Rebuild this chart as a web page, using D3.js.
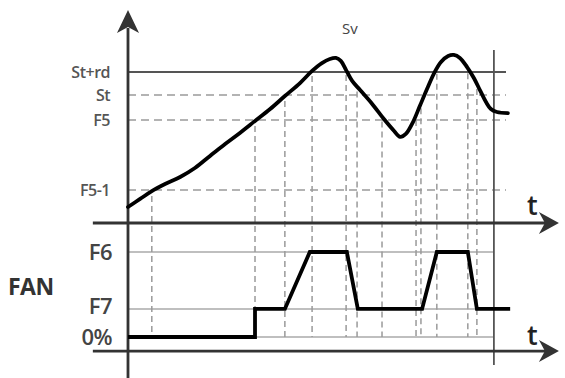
<!DOCTYPE html>
<html><head><meta charset="utf-8">
<script src="https://cdn.jsdelivr.net/npm/d3@7"></script>
<style>html,body{margin:0;padding:0;background:#fff;}svg{display:block;}</style>
</head><body>
<svg id="c" width="565" height="378"></svg>
<script>
// ---- data ----
const svTime  = [0,3.2,6.3,9.8,13.8,17.7,21.7,25.7,29.6,33.6,37.6,41.5,45.5,48.7,51.3,53.4,55.0,56.3,57.7,59.3,61.4,64.6,67.7,70.4,72.0,73.5,75.4,77.2,79.1,81.0,82.8,84.7,86.2,87.8,89.7,91.5,93.1,94.7,96.0,97.6,100.5];
const svValue = [0.75,1.13,1.50,1.83,2.16,2.58,3.15,3.71,4.23,4.79,5.35,5.96,6.57,7.14,7.51,7.70,7.75,7.61,7.18,6.67,6.24,5.59,4.88,4.32,4.04,4.18,4.74,5.49,6.29,7.04,7.56,7.84,7.89,7.75,7.32,6.81,6.24,5.68,5.35,5.21,5.16];
const thresholdNames  = ["St+rd","St","F5","F5-1"];
const thresholdValues = [7.09,6.01,4.84,1.55];
const fanLevelNames  = ["F6","F7","0%"];
const fanLevelValues = [100,33,0];
const fanTime  = [0,33.6,33.6,41.5,48.1,57.9,60.8,77.8,81.7,89.9,92.3,101.1];
const fanValue = [0,0,33,33,100,100,33,33,100,100,33,33];
const eventTimes = [6.3,33.6,41.5,48.7,57.7,60.6,67.2,76.2,77.5,81.7,89.9,92.3];
const endTime = 96.8;

// ---- scales ----
const x = d3.scaleLinear().domain([0,100]).range([128,506]);
const ySv = d3.scaleLinear().domain([0,10]).range([223,10]);
const yFan = d3.scaleLinear().domain([0,100]).range([337,252]);

const svg = d3.select("#c");
const font = "'Open Sans', 'DejaVu Sans', sans-serif";
const grey = "#9a9a9a";

// threshold lines
thresholdNames.forEach((n,i)=>{
  const solid = i===0;
  svg.append("line")
    .attr("x1",x(0)).attr("x2",x(100))
    .attr("y1",ySv(thresholdValues[i])).attr("y2",ySv(thresholdValues[i]))
    .attr("stroke", solid? "#555":grey).attr("stroke-width", solid?2:1.5)
    .attr("stroke-dasharray", solid? null : "8,5");
  svg.append("text").attr("x",110).attr("y",ySv(thresholdValues[i]))
    .attr("dy","0.35em").attr("text-anchor","end")
    .attr("font-family",font).attr("font-size",16).attr("font-weight",600)
    .attr("letter-spacing","-0.5").attr("fill","#555")
    .text(n);
});

// fan grid lines
const fanLabelShift = [0,-3,0];
fanLevelNames.forEach((n,i)=>{
  svg.append("line")
    .attr("x1",x(0)).attr("x2",x(endTime))
    .attr("y1",yFan(fanLevelValues[i])).attr("y2",yFan(fanLevelValues[i]))
    .attr("stroke","#aaa").attr("stroke-width",1.5);
  svg.append("text").attr("x",112).attr("y",yFan(fanLevelValues[i])+fanLabelShift[i])
    .attr("dy","0.35em").attr("text-anchor","end")
    .attr("font-family",font).attr("font-size",22).attr("font-weight",600)
    .attr("letter-spacing","-0.5").attr("fill","#444")
    .text(n);
});
svg.append("text").attr("x",8).attr("y",287).attr("dy","0.35em")
  .attr("font-family",font).attr("font-size",23).attr("font-weight",700).attr("fill","#333")
  .attr("letter-spacing","-0.5")
  .text("FAN");

// event vertical dashed lines
const svInterp = t => {
  const i = d3.bisectLeft(svTime,t);
  if (i<=0) return svValue[0];
  if (i>=svTime.length) return svValue[svValue.length-1];
  const t0=svTime[i-1], t1=svTime[i];
  return svValue[i-1] + (svValue[i]-svValue[i-1])*(t-t0)/(t1-t0);
};
eventTimes.forEach(t=>{
  svg.append("line")
    .attr("x1",x(t)).attr("x2",x(t))
    .attr("y1",ySv(svInterp(t))+5).attr("y2",yFan(0))
    .attr("stroke",grey).attr("stroke-width",1.5).attr("stroke-dasharray","6,4");
});

// right end vertical line
svg.append("line").attr("x1",x(endTime)).attr("x2",x(endTime))
  .attr("y1",50).attr("y2",365).attr("stroke","#555").attr("stroke-width",1.8);

// axes
const axisColor = "#333";
function hArrow(yy){
  svg.append("line").attr("x1",x(-9.3)).attr("x2",x(114)-6)
    .attr("y1",yy).attr("y2",yy).attr("stroke",axisColor).attr("stroke-width",2.8);
  const tip = x(114);
  svg.append("path").attr("d",`M${tip},${yy} L${tip-20},${yy-11} L${tip-14},${yy} L${tip-20},${yy+11} Z`)
    .attr("fill",axisColor);
}
hArrow(ySv(0));
hArrow(yFan(-16.5));
svg.append("line").attr("x1",x(0)).attr("x2",x(0)).attr("y1",28).attr("y2",378)
  .attr("stroke",axisColor).attr("stroke-width",2.8);
svg.append("path").attr("d",`M${x(0)},10 L${x(0)-11},33 L${x(0)},27 L${x(0)+11},33 Z`).attr("fill",axisColor);

svg.append("text").attr("x",527).attr("y",215).attr("font-family",font).attr("font-size",27).attr("font-weight",600).attr("fill","#222").text("t");
svg.append("text").attr("x",527).attr("y",345).attr("font-family",font).attr("font-size",27).attr("font-weight",600).attr("fill","#222").text("t");
svg.append("text").attr("x",342).attr("y",34).attr("font-family",font).attr("font-size",15).attr("fill","#444").text("Sv");

// Sv curve
const svLine = d3.line().x(d=>x(d[0])).y(d=>ySv(d[1])).curve(d3.curveCatmullRom);
svg.append("path").datum(svTime.map((t,i)=>[t,svValue[i]]))
  .attr("d",svLine).attr("fill","none").attr("stroke","#000").attr("stroke-width",3.8)
  .attr("stroke-linejoin","round").attr("stroke-linecap","round");

// fan curve
const fanLine = d3.line().x(d=>x(d[0])).y(d=>yFan(d[1]));
svg.append("path").datum(fanTime.map((t,i)=>[t,fanValue[i]]))
  .attr("d",fanLine).attr("fill","none").attr("stroke","#000").attr("stroke-width",3.8)
  .attr("stroke-linejoin","miter");
</script>
</body></html>
